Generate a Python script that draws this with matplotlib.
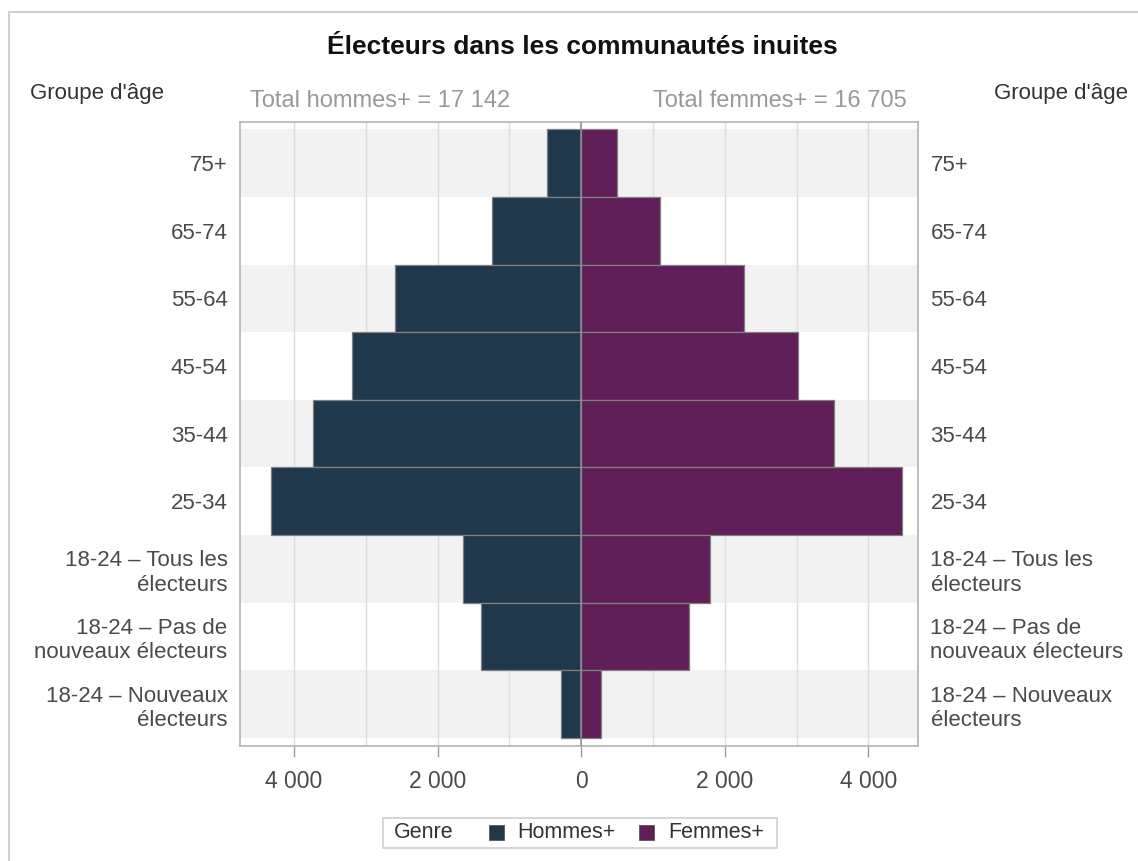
import matplotlib
matplotlib.use("Agg")
import matplotlib.pyplot as plt
from matplotlib.patches import Rectangle
from matplotlib.ticker import FuncFormatter, MultipleLocator
import numpy as np

plt.rcParams['font.family'] = ['Liberation Sans', 'DejaVu Sans']

categories = ["75+", "65-74", "55-64", "45-54", "35-44", "25-34",
              "18-24 – Tous les\nélecteurs",
              "18-24 – Pas de\nnouveaux électeurs",
              "18-24 – Nouveaux\nélecteurs"]
hommes = [480, 1245, 2595, 3195, 3740, 4315, 1650, 1395, 280]
femmes = [500, 1100, 2272, 3020, 3518, 4470, 1800, 1495, 275]
total_hommes = "17 142"
total_femmes = "16 705"
legend_title = "Genre"
legend_labels = ["Hommes+", "Femmes+"]

c_h = "#1f384c"
c_f = "#611f5a"

W, H = 1138, 861
fig = plt.figure(figsize=(W / 100, H / 100), dpi=100)

def fx(x):
    return x / W

def fy(y):
    return 1 - y / H

ax = fig.add_axes([fx(240), fy(746), fx(918) - fx(240), fy(122) - fy(746)])

y = np.arange(len(categories))
for i in y:
    if i % 2 == 0:
        ax.axhspan(i - 0.5, i + 0.5, color="#f2f2f2", zorder=0, lw=0)

for gx in range(-4000, 5000, 1000):
    ax.axvline(gx, color="#dcdcdc", lw=1.0, zorder=1)

ax.barh(y, -np.array(hommes), height=1.0, color=c_h, edgecolor="#7f7f7f", lw=0.9, zorder=2)
ax.barh(y, np.array(femmes), height=1.0, color=c_f, edgecolor="#7f7f7f", lw=0.9, zorder=2)
ax.axvline(0, color="#8c8c8c", lw=1.1, zorder=3)

ax.set_xlim(-4750, 4690)
ax.set_ylim(8.62, -0.61)

ax.set_yticks(y)
ax.set_yticklabels(categories)
ax.tick_params(axis="y", which="both", length=0, labelleft=True, labelright=True,
               pad=9, labelsize=16, labelcolor="#4a4a4a")
ax.xaxis.set_major_locator(MultipleLocator(2000))
ax.xaxis.set_major_formatter(FuncFormatter(lambda v, p: f"{abs(int(v)):,}".replace(",", " ")))
ax.tick_params(axis="x", length=8, color="#9a9a9a", width=1.0, pad=9, labelsize=16.5,
               labelcolor="#4a4a4a")

for s in ax.spines.values():
    s.set_color("#b4b4b4")
    s.set_linewidth(1.2)

# outer frame
fig.patches.append(Rectangle((fx(9), fy(900)), fx(1200), fy(12) - fy(900),
                             transform=fig.transFigure, fill=False,
                             edgecolor="#d0d0d0", lw=1.5))

fig.text(fx(582), fy(47), "Électeurs dans les communautés inuites", ha="center", va="center",
         fontsize=19, fontweight="bold", color="#111111")
fig.text(fx(30), fy(94), "Groupe d'âge", ha="left", va="center", fontsize=16, color="#333333")
fig.text(fx(1128), fy(94), "Groupe d'âge", ha="right", va="center", fontsize=16, color="#333333")
fig.text(fx(250), fy(101), f"Total hommes+ = {total_hommes}", ha="left", va="center",
         fontsize=17, color="#999999")
fig.text(fx(907), fy(101), f"Total femmes+ = {total_femmes}", ha="right", va="center",
         fontsize=17, color="#999999")

# legend
fig.patches.append(Rectangle((fx(383), fy(848)), fx(777) - fx(383), fy(818) - fy(848),
                             transform=fig.transFigure, fill=False,
                             edgecolor="#d0d0d0", lw=1.2))
fig.text(fx(394), fy(833), legend_title, ha="left", va="center", fontsize=15.5, color="#333333")
sq_x = [489, 639]
txt_x = [517, 668]
for sx, tx, col, lab in zip(sq_x, txt_x, [c_h, c_f], legend_labels):
    fig.patches.append(Rectangle((fx(sx), fy(840)), fx(15), fy(825) - fy(840),
                                 transform=fig.transFigure, facecolor=col,
                                 edgecolor="#555555", lw=0.6))
    fig.text(fx(tx), fy(833), lab, ha="left", va="center", fontsize=15.5, color="#333333")

fig.savefig("out.png", dpi=100)
